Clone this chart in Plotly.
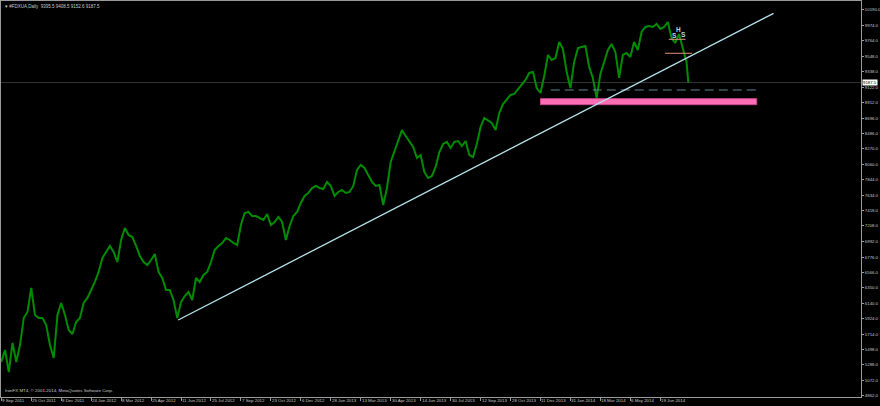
import numpy as np
import pandas as pd
import plotly.graph_objects as go

# ---------------- data ----------------
symbol_title = "\u25BE #FDXUA,Daily  9395.5 9408.5 9152.6 9187.5"
copyright_text = "IronFX MT4, \u00A9 2001-2014, MetaQuotes Software Corp."

eurex_holidays = [
    "2011-12-26", "2012-04-06", "2012-04-09", "2012-05-01", "2012-12-24", "2012-12-25",
    "2012-12-26", "2012-12-31", "2013-01-01", "2013-03-29", "2013-04-01", "2013-05-01",
    "2013-12-24", "2013-12-25", "2013-12-26", "2013-12-31", "2014-01-01", "2014-04-18",
    "2014-04-21", "2014-05-01", "2014-12-24", "2014-12-25", "2014-12-26", "2014-12-31",
]
trading_days = pd.bdate_range("2011-09-09", "2015-03-31", freq="C", holidays=eurex_holidays)

# daily closes read every 4th trading day (last value = last bar, 31 Jul 2014)
close_values = [
    5327, 5493, 5189, 5590, 5327, 5562, 5935, 6018, 6350, 5977,
    5935, 5935, 5839, 5562, 5383, 5977, 6142, 5977, 5770, 5714,
    5880, 5935, 6142, 6212, 6322, 6433, 6571, 6764, 6847, 6930,
    6847, 6709, 7013, 7179, 7082, 7054, 6930, 6792, 6709, 6667,
    6737, 6819, 6571, 6488, 6322, 6322, 6184, 5935, 6156, 6239,
    6294, 6184, 6488, 6433, 6529, 6571, 6709, 6875, 6930, 6971,
    7040, 7013, 6971, 6944, 7220, 7386, 7400, 7344, 7344, 7317,
    7289, 7372, 7220, 7261, 7331, 7261, 7013, 7206, 7344, 7400,
    7524, 7621, 7662, 7731, 7759, 7731, 7717, 7814, 7759, 7621,
    7676, 7703, 7662, 7676, 7759, 7980, 8049, 8007, 7911, 7814,
    7759, 7773, 7496, 7731, 8090, 8242, 8394, 8530, 8449, 8380,
    8297, 8146, 8187, 7952, 7869, 7897, 8021, 8228, 8339, 8367,
    8284, 8367, 8380, 8311, 8380, 8187, 8159, 8339, 8574, 8698,
    8657, 8629, 8532, 8767, 8891, 8960, 9016, 9030, 9099, 9168,
    9223, 9320, 9334, 9112, 9043, 9278, 9568, 9499, 9527, 9748,
    9651, 9334, 9112, 9472, 9665, 9679, 9693, 9403, 9251, 8974,
    9306, 9472, 9637, 9720, 9610, 9251, 9568, 9596, 9541, 9748,
    9637, 9886, 9955, 9969, 9955, 9997, 9928, 9955, 10024, 9803,
    9734, 9858, 9665, 9472,
    9187.5,
]
sample_bars = list(range(0, 733, 4)) + [734]
sample_dates = trading_days[sample_bars]
last_price = 9187.5

x_tick_labels = ["9 Sep 2011", "25 Oct 2011", "8 Dec 2011", "24 Jan 2012", "8 Mar 2012",
                 "25 Apr 2012", "11 Jun 2012", "25 Jul 2012", "7 Sep 2012", "23 Oct 2012",
                 "6 Dec 2012", "28 Jan 2013", "13 Mar 2013", "30 Apr 2013", "14 Jun 2013",
                 "30 Jul 2013", "12 Sep 2013", "28 Oct 2013", "11 Dec 2013", "31 Jan 2014",
                 "18 Mar 2014", "6 May 2014", "19 Jun 2014"]
y_tick_values = [10190, 9974, 9764, 9548, 9338, 9122, 8912, 8696, 8486, 8270, 8060, 7844,
                 7634, 7418, 7208, 6992, 6776, 6566, 6350, 6140, 5924, 5714, 5498, 5288,
                 5072, 4862]

# drawn objects (date, price)
trendline = [("2012-06-06", 5908), ("2014-12-05", 10144)]
support_dashed = [("2014-01-02", 9085), ("2014-11-14", 9085)]
support_zone = [("2013-12-11", 8882), ("2014-11-11", 8965)]
shoulder_line = [("2014-07-02", 9785), ("2014-07-28", 9785)]
neckline = [("2014-06-26", 9592), ("2014-08-06", 9592)]
hs_labels = [("S", "2014-07-10", 9831), ("H", "2014-07-16", 9918), ("S", "2014-07-24", 9854)]


def bar_of(d):
    return trading_days.get_loc(pd.Timestamp(d))


x_bars = [bar_of(d) for d in sample_dates]
tick_bars = [bar_of(pd.to_datetime(t, format="%d %b %Y")) for t in x_tick_labels]

GREEN = "#008c00"
TXT = "#c8c8c8"
FONT = "Liberation Sans"

fig = go.Figure()
fig.add_trace(go.Scatter(x=x_bars, y=close_values, mode="lines",
                         line=dict(color=GREEN, width=2), hoverinfo="skip", showlegend=False))

shapes = []
# current price line
shapes.append(dict(type="line", xref="paper", x0=0, x1=1, y0=last_price, y1=last_price,
                   line=dict(color="#343434", width=1), layer="below"))
(d0, p0), (d1, p1) = support_zone
shapes.append(dict(type="rect", x0=bar_of(d0), x1=bar_of(d1), y0=p0, y1=p1,
                   fillcolor="#ff6eb4", line=dict(color="#c84890", width=1)))
(d0, p0), (d1, p1) = support_dashed
shapes.append(dict(type="line", x0=bar_of(d0), x1=bar_of(d1), y0=p0, y1=p1,
                   line=dict(color="#5f8496", width=1, dash="9px,5px")))
(d0, p0), (d1, p1) = trendline
shapes.append(dict(type="line", x0=bar_of(d0), x1=bar_of(d1), y0=p0, y1=p1,
                   line=dict(color="#b4e2ea", width=1.3)))
for seg in (shoulder_line, neckline):
    (d0, p0), (d1, p1) = seg
    shapes.append(dict(type="line", x0=bar_of(d0), x1=bar_of(d1), y0=p0, y1=p1,
                       line=dict(color="#e0907a", width=1)))

annotations = []
for txt, d, p in hs_labels:
    annotations.append(dict(x=bar_of(d), y=p, text="<b>%s</b>" % txt, showarrow=False,
                            font=dict(family=FONT, size=6.5, color="#bcd4e4")))
annotations.append(dict(xref="paper", yref="paper", x=0.002, y=0.998, xanchor="left", yanchor="top",
                        text=symbol_title, showarrow=False, font=dict(family=FONT, size=4.5, color=TXT)))
annotations.append(dict(xref="paper", yref="paper", x=0.002, y=0.006, xanchor="left", yanchor="bottom",
                        text=copyright_text, showarrow=False, font=dict(family=FONT, size=4.4, color=TXT)))
annotations.append(dict(xref="paper", x=1.0, y=last_price, xanchor="left", yanchor="middle", xshift=1,
                        text="%.1f" % last_price, showarrow=False, bgcolor="#ffffff", borderpad=0,
                        font=dict(family=FONT, size=4.3, color="#000000")))
# date labels, left-aligned at their tick like the terminal does
for tb, lab in zip(tick_bars, x_tick_labels):
    annotations.append(dict(x=tb, xref="x", y=0, yref="paper", xanchor="left", yanchor="top",
                            xshift=0, yshift=0, text=lab, showarrow=False, borderpad=0,
                            font=dict(family=FONT, size=4.4, color=TXT)))

fig.update_layout(
    width=880, height=406,
    margin=dict(l=1, r=19, t=1, b=9, autoexpand=False),
    paper_bgcolor="#000000", plot_bgcolor="#000000",
    shapes=shapes, annotations=annotations, showlegend=False,
    xaxis=dict(range=[-0.3, 918.4], tickvals=tick_bars, showticklabels=False,
               automargin=False,
               showgrid=False, zeroline=False, showline=True, mirror=True,
               linecolor="#9a9a9a", linewidth=1, ticks="outside", ticklen=3, tickcolor="#9a9a9a",
               fixedrange=True),
    yaxis=dict(range=[4844, 10314], side="right", tickvals=y_tick_values,
               ticktext=["%.1f" % v for v in y_tick_values], automargin=False,
               showgrid=False, zeroline=False, showline=True, mirror=True,
               linecolor="#9a9a9a", linewidth=1, ticks="outside", ticklen=2, tickcolor="#9a9a9a",
               tickfont=dict(family=FONT, size=4.3, color=TXT), ticklabelstandoff=0, fixedrange=True),
)

fig.write_html("out.html", config={"displayModeBar": False},
               post_script="document.body.style.margin='0px';document.body.style.background='#000000';")
